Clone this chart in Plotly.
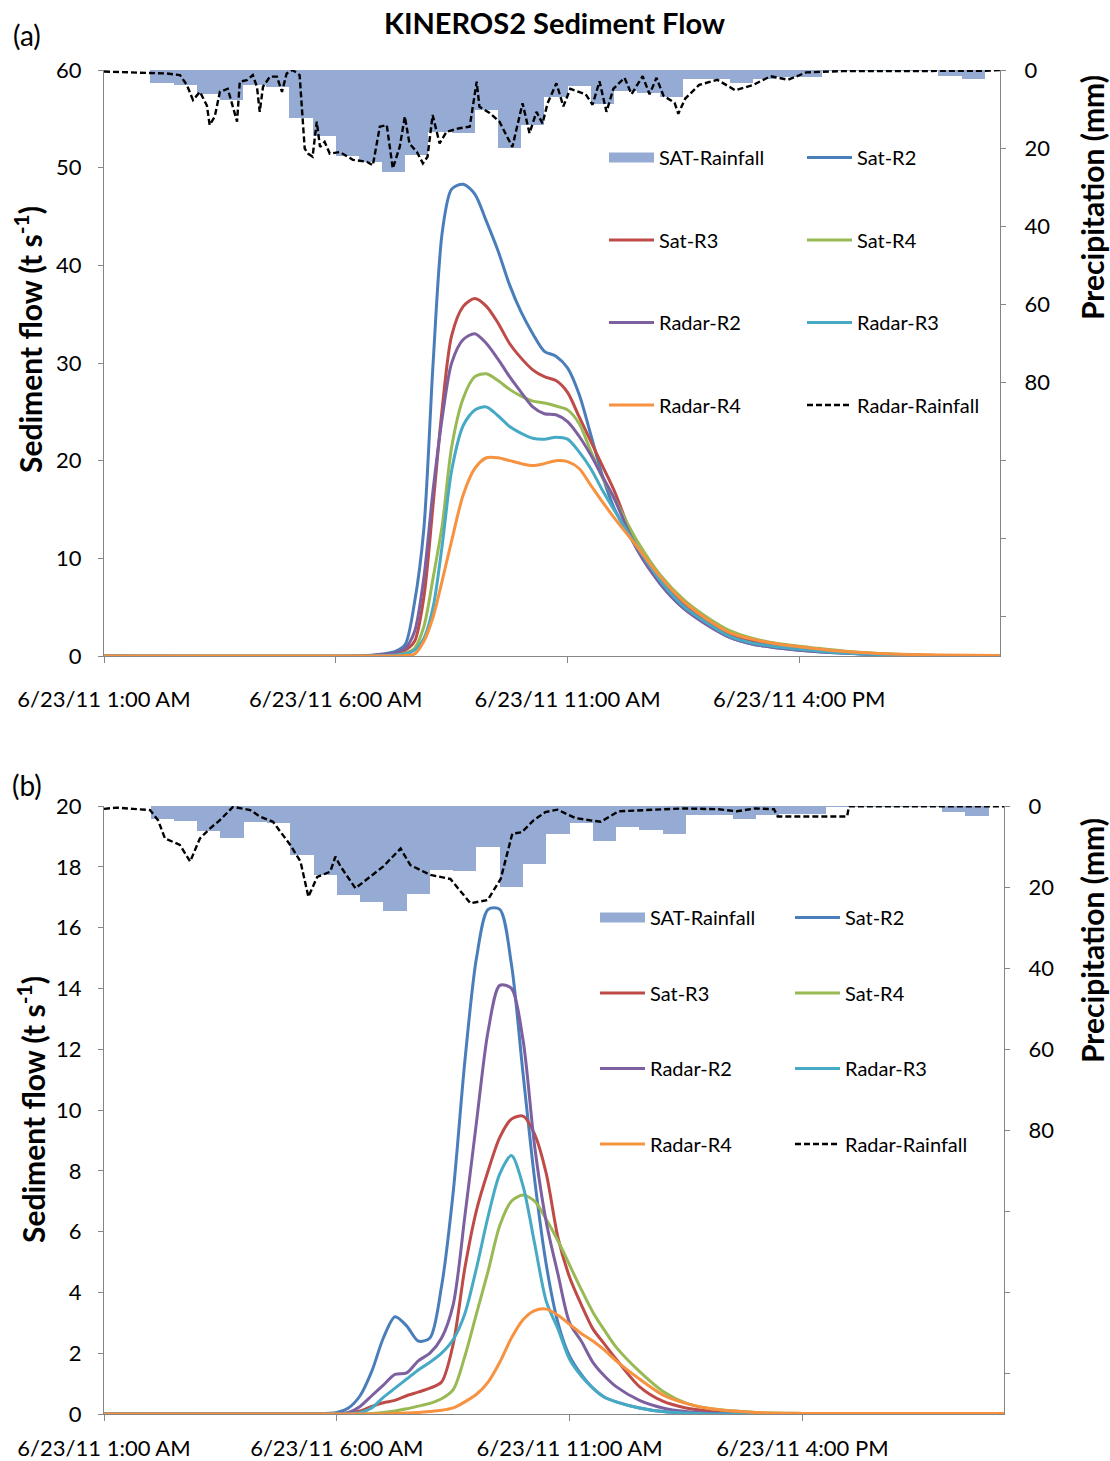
import plotly.graph_objects as go

# ---------------- data ----------------
# x values are hours of 6/23/11 (1.0 = 1:00 AM)
TICK_HOURS = [1, 6, 11, 16]
TICK_TEXT = ["6/23/11 1:00 AM", "6/23/11 6:00 AM", "6/23/11 11:00 AM", "6/23/11 4:00 PM"]
X_RANGE = [1.0, 20.33]
PRECIP_TICKS = [0, 20, 40, 60, 80]
PRECIP_MINOR = [100, 120, 140]

# satellite rainfall, 30-min totals (mm), same for both panels
SAT_MM = [0, 0, 3.3, 3.8, 6.2, 7.8, 3.9, 4.3, 12.2, 17.0, 22.0, 23.6, 26.0, 21.8,
          15.8, 16.0, 10.2, 20.0, 14.2, 7.0, 4.2, 8.7, 5.3, 6.0, 7.0, 2.3, 2.3,
          3.2, 2.3, 1.9, 1.9, 0.2, 0.2, 0.2, 0.2, 0.2, 1.5, 2.4, 0]
SAT_START = [1.0 + 0.5 * k for k in range(len(SAT_MM))]

# ---- panel (a) ----
RADAR_T_A = [1.0, 1.62, 1.99, 2.36, 2.64, 2.79, 2.92, 3.07, 3.22, 3.28, 3.39, 3.5, 3.67,
             3.78, 3.87, 3.93, 4.08, 4.21, 4.3, 4.36, 4.43, 4.58, 4.73, 4.84, 4.94, 5.07,
             5.22, 5.33, 5.4, 5.5, 5.59, 5.66, 5.76, 5.87, 6.09, 6.37, 6.67, 6.8, 6.95,
             7.1, 7.23, 7.38, 7.49, 7.59, 7.75, 7.88, 7.98, 8.09, 8.24, 8.39, 8.67, 8.89,
             9.04, 9.1, 9.32, 9.53, 9.81, 10.03, 10.18, 10.33, 10.46, 10.57, 10.76,
             10.91, 11.06, 11.39, 11.54, 11.69, 11.84, 11.99, 12.23, 12.38, 12.62,
             12.77, 12.92, 13.07, 13.31, 13.39, 13.54, 13.84, 14.23, 14.62, 15.01,
             15.38, 15.76, 16.15, 16.93, 20.0, 20.33]
RADAR_MM_A = [0.4, 0.6, 0.7, 0.9, 1.3, 3.9, 7.7, 5.6, 9.1, 14.1, 11.9, 5.6, 4.8, 9.1,
              13.2, 3.0, 2.6, 1.3, 4.3, 10.7, 4.3, 1.7, 1.7, 5.6, 0.9, 0.0, 1.3, 20.1,
              21.4, 22.2, 13.2, 19.7, 18.4, 21.4, 21.0, 23.0, 23.5, 24.4, 14.5, 14.1,
              25.2, 19.7, 11.9, 18.8, 21.0, 23.9, 22.2, 11.5, 18.8, 15.8, 14.9, 14.5,
              3.0, 9.4, 11.0, 13.2, 19.7, 8.5, 16.2, 10.7, 13.7, 8.5, 3.4, 9.3, 4.8,
              6.2, 8.9, 2.9, 10.7, 4.8, 2.0, 6.2, 1.6, 6.2, 2.0, 6.6, 8.4, 11.2, 7.3,
              3.8, 2.5, 5.2, 3.8, 1.6, 2.5, 0.6, 0.3, 0.2, 0.0]

T_A = [1.0, 6.5, 7.0, 7.3, 7.5, 7.7, 7.9, 8.1, 8.3, 8.5, 8.75, 9.0, 9.25, 9.5, 9.75,
       10.0, 10.25, 10.5, 10.75, 11.0, 11.25, 11.5, 11.75, 12.0, 12.5, 13.0, 13.5,
       14.0, 14.5, 15.0, 15.5, 16.0, 17.0, 18.0, 19.0, 20.33]
SAT_R2_A = [0, 0, 0.2, 0.5, 1.2, 5.5, 13, 30, 43.5, 47.8, 48.3, 47.3, 44.5, 41.5, 38,
            35.2, 33, 31.2, 30.7, 29.5, 26.8, 22.7, 18.5, 15.2, 11.0, 7.4, 4.9, 3.3,
            1.9, 1.2, 0.85, 0.6, 0.28, 0.1, 0.02, 0]
SAT_R3_A = [0, 0, 0.1, 0.3, 0.6, 1.5, 6, 15.5, 25.5, 32.8, 35.8, 36.6, 35.8, 34.1, 32,
            30.5, 29.3, 28.6, 28.2, 27.0, 24.5, 22.0, 19.5, 17.0, 11.2, 7.9, 5.3, 3.6,
            2.2, 1.5, 1.1, 0.85, 0.4, 0.15, 0.05, 0]
SAT_R4_A = [0, 0, 0.05, 0.15, 0.3, 0.8, 3, 8, 13.5, 21.4, 26.4, 28.6, 28.9, 28.2, 27.3,
            26.6, 26.1, 25.9, 25.6, 25.2, 23.8, 21.0, 18.3, 16.2, 11.8, 8.3, 5.8, 4.0,
            2.6, 1.8, 1.3, 1.0, 0.5, 0.2, 0.05, 0]
RADAR_R2_A = [0, 0, 0.15, 0.35, 0.8, 2.5, 8, 17, 24.5, 30, 32.4, 33.0, 32, 30.4, 28.6,
              27, 25.5, 24.8, 24.7, 24.0, 22.5, 20.6, 18.4, 16.2, 10.9, 7.4, 4.9, 3.2,
              1.9, 1.2, 0.85, 0.6, 0.3, 0.1, 0, 0]
RADAR_R3_A = [0, 0, 0.05, 0.1, 0.2, 0.6, 1.8, 5.0, 11.5, 19, 23.6, 25.2, 25.5, 24.6,
              23.5, 22.8, 22.3, 22.2, 22.4, 22.2, 20.9, 19.2, 17, 15, 11.2, 7.7, 5.1,
              3.4, 2.0, 1.3, 0.95, 0.7, 0.3, 0.1, 0, 0]
RADAR_R4_A = [0, 0, 0, 0, 0.05, 0.2, 1.5, 4, 7.8, 11.8, 16.5, 19.2, 20.3, 20.3, 20.0,
              19.7, 19.5, 19.7, 20.0, 19.9, 19.2, 17.5, 15.8, 14.2, 11.2, 8.1, 5.6, 3.8,
              2.4, 1.7, 1.25, 0.95, 0.45, 0.2, 0.1, 0.05]

# ---- panel (b) ----
RADAR_T_B = [1.0, 1.28, 1.62, 1.99, 2.16, 2.31, 2.63, 2.85, 3.06, 3.28, 3.49, 3.77, 4.14,
             4.35, 4.63, 4.78, 5.0, 5.22, 5.39, 5.58, 5.86, 5.97, 6.08, 6.4, 6.66, 7.0,
             7.37, 7.58, 8.01, 8.44, 8.87, 9.24, 9.52, 9.77, 9.97, 10.23, 10.48, 10.74,
             11.13, 11.67, 12.05, 12.66, 13.43, 14.2, 14.59, 14.98, 15.39, 15.47, 16.96,
             17.0, 20.33]
RADAR_MM_B = [0.7, 0.4, 0.7, 1.0, 3.5, 8.0, 9.6, 13.7, 8.0, 5.5, 3.5, 0.2, 1.0, 2.6, 3.9,
              6.3, 9.6, 13.7, 22.4, 17.5, 16.2, 12.5, 14.9, 20.3, 18.0, 14.9, 10.5, 14.6,
              17.0, 18.0, 24.0, 23.2, 18.0, 6.8, 6.5, 3.5, 1.5, 0.9, 3.0, 3.9, 1.3, 1.0,
              0.6, 0.8, 1.3, 0.6, 0.8, 2.6, 2.6, 0.1, 0.1]

T_B = [1.0, 5.5, 6.0, 6.25, 6.5, 6.75, 7.0, 7.25, 7.5, 7.75, 8.0, 8.25, 8.5, 8.75, 9.0,
       9.25, 9.5, 9.75, 10.0, 10.25, 10.5, 10.75, 11.0, 11.25, 11.5, 11.75, 12.0, 12.5,
       13.0, 13.5, 14.0, 15.0, 16.0, 17.0, 20.33]
SAT_R2_B = [0, 0, 0.05, 0.2, 0.6, 1.4, 2.5, 3.2, 2.9, 2.4, 2.5, 4.2, 7.3, 11.6, 15.0,
            16.6, 16.6, 14.8, 11.2, 7.7, 4.9, 3.0, 1.9, 1.3, 0.85, 0.55, 0.4, 0.2, 0.08,
            0.03, 0, 0, 0, 0, 0]
SAT_R3_B = [0, 0, 0, 0.03, 0.1, 0.25, 0.37, 0.45, 0.6, 0.72, 0.85, 1.05, 2.3, 4.8, 6.7,
            8.0, 9.1, 9.7, 9.8, 9.2, 7.9, 5.8, 4.5, 3.6, 2.8, 2.3, 1.8, 0.9, 0.42, 0.2,
            0.1, 0.02, 0, 0, 0]
SAT_R4_B = [0, 0, 0, 0, 0, 0.02, 0.05, 0.1, 0.17, 0.26, 0.35, 0.5, 0.8, 1.9, 3.3, 4.7,
            6.2, 7.0, 7.2, 7.0, 6.4, 5.7, 4.9, 4.1, 3.35, 2.75, 2.2, 1.4, 0.75, 0.36,
            0.18, 0.05, 0.02, 0, 0]
RADAR_R2_B = [0, 0, 0, 0.05, 0.25, 0.6, 0.95, 1.3, 1.35, 1.75, 2.0, 2.5, 3.6, 6.5, 9.6,
              12.6, 14.1, 14.0, 12.3, 8.8, 6.3, 4.6, 3.0, 2.4, 1.7, 1.25, 0.9, 0.45,
              0.2, 0.08, 0.03, 0, 0, 0, 0]
RADAR_R3_B = [0, 0, 0, 0, 0.05, 0.2, 0.55, 0.85, 1.15, 1.45, 1.7, 2.0, 2.45, 3.3, 4.8,
              6.5, 7.9, 8.5, 7.5, 5.6, 3.7, 2.8, 1.8, 1.25, 0.85, 0.55, 0.4, 0.2, 0.08,
              0.03, 0, 0, 0, 0, 0]
RADAR_R4_B = [0, 0, 0, 0, 0, 0, 0, 0.02, 0.03, 0.05, 0.08, 0.12, 0.2, 0.4, 0.65, 1.05,
              1.7, 2.5, 3.1, 3.4, 3.45, 3.25, 2.95, 2.65, 2.4, 2.1, 1.75, 1.15, 0.63,
              0.35, 0.18, 0.05, 0.02, 0.02, 0.02]

SERIES_NAMES = ["Sat-R2", "Sat-R3", "Sat-R4", "Radar-R2", "Radar-R3", "Radar-R4"]
COLORS = {"Sat-R2": "#4A7EBB", "Sat-R3": "#BE4B48", "Sat-R4": "#98B954",
          "Radar-R2": "#7D60A0", "Radar-R3": "#46AAC5", "Radar-R4": "#F69240"}
BAR_COLOR = "#95ABD4"

# ---------------- figure ----------------
W, H = 1110, 1461
FONT = "Lato"
fig = go.Figure()

def px_x(p):
    return p / W

def px_y(p):
    return 1 - p / H

panels = [
    dict(xa="x", ya="y", ya2="y2", T=T_A,
         vals=[SAT_R2_A, SAT_R3_A, SAT_R4_A, RADAR_R2_A, RADAR_R3_A, RADAR_R4_A],
         rt=RADAR_T_A, rmm=RADAR_MM_A, legs=("legend", "legend2")),
    dict(xa="x2", ya="y3", ya2="y4", T=T_B,
         vals=[SAT_R2_B, SAT_R3_B, SAT_R4_B, RADAR_R2_B, RADAR_R3_B, RADAR_R4_B],
         rt=RADAR_T_B, rmm=RADAR_MM_B, legs=("legend3", "legend4")),
]

# legend column assignment (col1, col2) in Excel order
COL1 = ["SAT-Rainfall", "Sat-R3", "Radar-R2", "Radar-R4"]
COL2 = ["Sat-R2", "Sat-R4", "Radar-R3", "Radar-Rainfall"]

for pi, p in enumerate(panels):
    l1, l2 = p["legs"]
    def leg_of(name):
        return l1 if name in COL1 else l2
    def rank(name):
        return (COL1 if name in COL1 else COL2).index(name)
    # satellite rainfall bars (secondary, reversed axis)
    fig.add_trace(go.Bar(x=SAT_START, y=SAT_MM, width=0.5, offset=0,
                         marker=dict(color=BAR_COLOR, line=dict(width=0)),
                         name="SAT-Rainfall", showlegend=False,
                         xaxis=p["xa"], yaxis=p["ya2"]))
    # legend entry for the bars (wide swatch like Excel)
    fig.add_trace(go.Scatter(x=[None], y=[None], mode="lines",
                             line=dict(color=BAR_COLOR, width=11),
                             name="SAT-Rainfall", legend=leg_of("SAT-Rainfall"),
                             legendgroup=f"p{pi}SAT", legendrank=rank("SAT-Rainfall"),
                             xaxis=p["xa"], yaxis=p["ya2"]))
    for name, v in zip(SERIES_NAMES, p["vals"]):
        fig.add_trace(go.Scatter(x=p["T"], y=v, mode="lines", name=name,
                                 line=dict(color=COLORS[name], width=3,
                                           shape="spline", smoothing=0.8),
                                 legend=leg_of(name), legendgroup=f"p{pi}{name}",
                                 legendrank=rank(name),
                                 xaxis=p["xa"], yaxis=p["ya"]))
    fig.add_trace(go.Scatter(x=p["rt"], y=p["rmm"], mode="lines", name="Radar-Rainfall",
                             line=dict(color="black", width=2.4, dash="6px,3px"),
                             legend=leg_of("Radar-Rainfall"),
                             legendgroup=f"p{pi}RR", legendrank=rank("Radar-Rainfall"),
                             xaxis=p["xa"], yaxis=p["ya2"]))

AXIS_COLOR = "#868686"
tickfont = dict(family=FONT, size=22, color="black")

def xaxis(dom, anchor, standoff):
    return dict(domain=dom, anchor=anchor, range=X_RANGE, tickvals=TICK_HOURS,
                ticktext=TICK_TEXT, ticks="outside", ticklen=6, tickcolor=AXIS_COLOR,
                showline=True, linecolor=AXIS_COLOR, linewidth=1, showgrid=False,
                zeroline=False, tickfont=tickfont, ticklabelstandoff=standoff,
                automargin=False)

def yleft(dom, anchor, rng, dt):
    return dict(domain=dom, anchor=anchor, range=rng, dtick=dt, tick0=0,
                ticks="outside", ticklen=5, tickcolor=AXIS_COLOR, showline=True,
                linecolor=AXIS_COLOR, linewidth=1, showgrid=False, zeroline=False,
                tickfont=tickfont, ticklabelstandoff=12, automargin=False)

def yright(overlay, anchor):
    return dict(overlaying=overlay, anchor=anchor, side="right", range=[150, 0],
                tickvals=PRECIP_TICKS, ticks="outside", ticklen=5,
                tickcolor=AXIS_COLOR,
                minor=dict(tickvals=PRECIP_MINOR, ticks="outside", ticklen=5,
                           tickcolor=AXIS_COLOR, showgrid=False),
                showline=True, linecolor=AXIS_COLOR, linewidth=1, showgrid=False,
                zeroline=False, tickfont=tickfont, ticklabelstandoff=14,
                automargin=False)

dom_x_a = [px_x(104), px_x(1000)]
dom_x_b = [px_x(104), px_x(1004)]
dom_y_a = [px_y(656), px_y(70)]
dom_y_b = [px_y(1414), px_y(806)]

legfont = dict(family=FONT, size=20, color="black")

def legend(xp, yp, gap):
    return dict(x=px_x(xp), y=px_y(yp), xanchor="left", yanchor="top",
                orientation="v", bgcolor="rgba(0,0,0,0)", borderwidth=0,
                font=legfont, tracegroupgap=gap, itemwidth=45,
                traceorder="grouped")

fig.update_layout(
    width=W, height=H, margin=dict(l=0, r=0, t=0, b=0, pad=0, autoexpand=False),
    paper_bgcolor="white", plot_bgcolor="rgba(0,0,0,0)",
    font=dict(family=FONT, color="black"),
    barmode="overlay", bargap=0,
    xaxis=xaxis(dom_x_a, "y", 18),
    yaxis=yleft(dom_y_a, "x", [0, 60], 10),
    yaxis2=yright("y", "x"),
    xaxis2=xaxis(dom_x_b, "y3", 9),
    yaxis3=yleft(dom_y_b, "x2", [0, 20], 2),
    yaxis4=yright("y3", "x2"),
    legend=legend(604, 138, 53.5),
    legend2=legend(802, 138, 53.5),
    legend3=legend(595, 898, 46.5),
    legend4=legend(790, 898, 46.5),
)

ann = [
    dict(text="<b>KINEROS2 Sediment Flow</b>", x=px_x(555), y=px_y(22), size=29),
    dict(text="(a)", x=px_x(27), y=px_y(35), size=28),
    dict(text="(b)", x=px_x(27), y=px_y(785), size=28),
]
for a in ann:
    fig.add_annotation(text=a["text"], x=a["x"], y=a["y"], xref="paper", yref="paper",
                       xanchor="center", yanchor="middle", showarrow=False,
                       font=dict(family=FONT, size=a["size"], color="black"))

titles = [
    ("<b>Sediment flow (t s<sup>-1</sup>)</b>", 28, 340),
    ("<b>Precipitation (mm)</b>", 1092, 198),
    ("<b>Sediment flow (t s<sup>-1</sup>)</b>", 31, 1110),
    ("<b>Precipitation (mm)</b>", 1092, 941),
]
for t, xp, yp in titles:
    fig.add_annotation(text=t, x=px_x(xp), y=px_y(yp), xref="paper", yref="paper",
                       xanchor="center", yanchor="middle", showarrow=False,
                       textangle=-90, font=dict(family=FONT, size=30, color="black"))

fig.write_html("out.html")
